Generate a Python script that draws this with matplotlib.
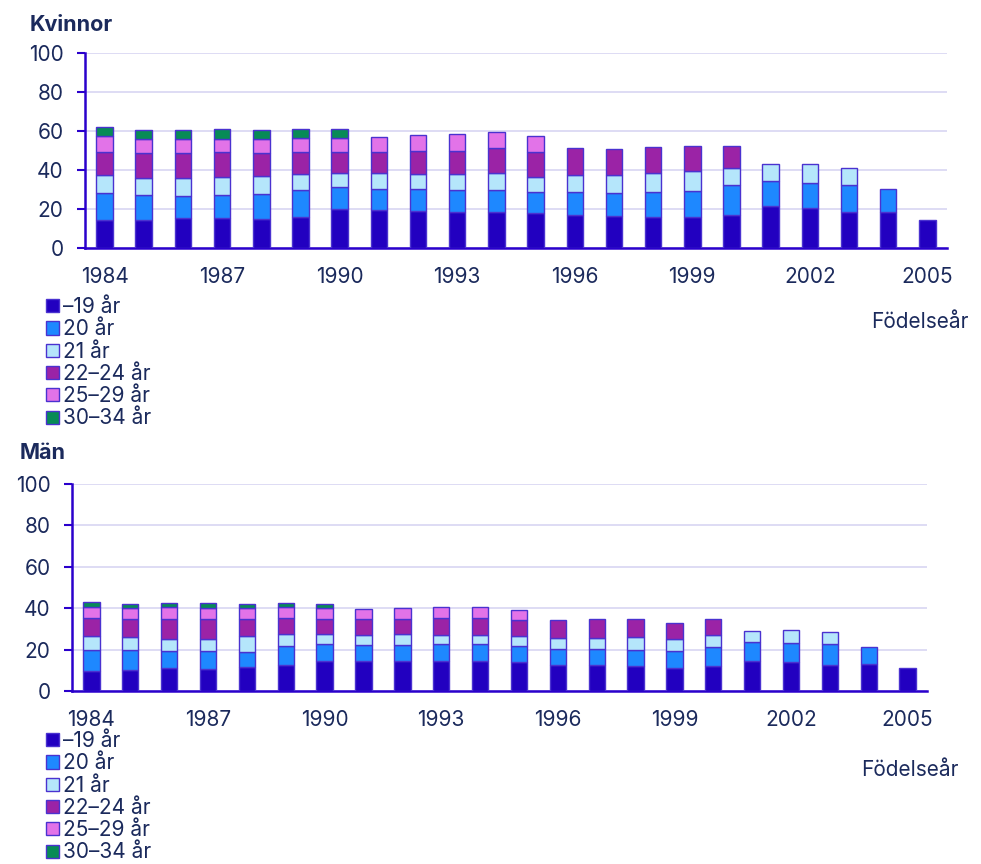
import numpy as np
import matplotlib.pyplot as plt
from matplotlib.patches import Patch

plt.rcParams["font.family"] = ["Inter", "DejaVu Sans"]

# Data
years = list(range(1984, 2006))
labels = ["\u201319 år", "20 år", "21 år", "22\u201324 år", "25\u201329 år", "30\u201334 år"]

w_19 = [14.5, 14.5, 15.2, 15.2, 15.0, 16.1, 20.2, 19.5, 18.8, 18.3, 18.3, 17.8, 16.9, 16.6, 16.1, 16.1, 17.1, 21.7, 20.5, 18.3, 18.6, 14.5]
w_20 = [13.5, 12.9, 11.6, 12.0, 12.5, 13.6, 11.3, 10.8, 11.5, 11.4, 11.6, 10.7, 11.6, 11.8, 12.4, 13.3, 15.4, 12.7, 13.0, 14.0, 11.5, 0]
w_21 = [9.3, 8.5, 9.1, 9.0, 9.4, 8.4, 7.1, 8.0, 7.8, 8.1, 8.4, 8.1, 8.8, 8.9, 9.8, 10.3, 8.5, 8.5, 9.4, 8.6, 0, 0]
w_22 = [11.9, 12.6, 12.6, 13.0, 12.0, 11.1, 10.8, 10.9, 11.6, 12.1, 12.8, 12.8, 14.0, 13.6, 13.3, 12.8, 11.5, 0, 0, 0, 0, 0]
w_25 = [8.1, 7.2, 7.2, 6.9, 6.8, 7.0, 7.2, 7.7, 8.1, 8.4, 8.2, 7.9, 0, 0, 0, 0, 0, 0, 0, 0, 0, 0]
w_30 = [4.6, 4.8, 4.8, 4.9, 5.0, 4.8, 4.3, 0, 0, 0, 0, 0, 0, 0, 0, 0, 0, 0, 0, 0, 0, 0]

m_19 = [9.6, 10.1, 11.0, 10.7, 11.4, 12.5, 14.7, 14.4, 14.7, 14.7, 14.7, 13.9, 12.8, 12.8, 12.2, 11.0, 12.0, 14.7, 13.9, 12.8, 13.0, 11.0]
m_20 = [10.1, 9.9, 8.5, 8.8, 7.6, 9.3, 8.0, 7.7, 7.7, 7.9, 7.9, 7.7, 7.7, 7.5, 7.8, 8.4, 9.4, 8.8, 9.1, 9.9, 8.4, 0]
m_21 = [7.0, 6.1, 5.8, 5.8, 7.4, 5.7, 4.8, 4.9, 5.0, 4.6, 4.6, 4.8, 5.1, 5.5, 5.9, 5.7, 5.8, 5.5, 6.3, 5.8, 0, 0]
m_22 = [8.5, 8.6, 9.6, 9.6, 8.6, 7.7, 7.2, 7.6, 7.3, 8.0, 8.2, 8.0, 8.6, 8.8, 8.7, 7.7, 7.4, 0, 0, 0, 0, 0]
m_25 = [5.6, 5.6, 5.6, 5.1, 5.0, 5.3, 5.3, 4.9, 5.3, 5.4, 5.2, 4.8, 0, 0, 0, 0, 0, 0, 0, 0, 0, 0]
m_30 = [2.4, 1.9, 2.1, 2.6, 2.2, 2.1, 1.8, 0, 0, 0, 0, 0, 0, 0, 0, 0, 0, 0, 0, 0, 0, 0]

colors = ["#2200C0", "#1E88FF", "#B5E6FB", "#9B23A6", "#E273E8", "#078B56"]
edge = "#4A32D0"
text_c = "#1B2A5C"
axis_c = "#2A00CC"
grid_c = "#D8D5F2"


def draw(ax, series):
    x = np.arange(len(years))
    bottom = np.zeros(len(years))
    for vals, col in zip(series, colors):
        v = np.array(vals, dtype=float)
        m = v > 0
        ax.bar(x[m], v[m], bottom=bottom[m], width=0.42, color=col,
               edgecolor=edge, linewidth=1.0, zorder=3)
        bottom += v
    ax.set_xlim(-0.5, len(years) - 0.5)
    ax.set_ylim(0, 100)
    ax.set_yticks(range(0, 101, 20))
    ax.set_xticks(x[::3])
    ax.set_xticklabels([str(y) for y in years[::3]])
    ax.grid(axis="y", color=grid_c, linewidth=1.2, zorder=0)
    for s in ["top", "right"]:
        ax.spines[s].set_visible(False)
    for s in ["left", "bottom"]:
        ax.spines[s].set_color(axis_c)
        ax.spines[s].set_linewidth(1.8)
    ax.tick_params(axis="y", colors=axis_c, labelcolor=text_c, labelsize=15,
                   length=6, width=1.5, pad=9.5)
    ax.tick_params(axis="x", length=0, labelcolor=text_c, labelsize=15, pad=13.5)


fig = plt.figure(figsize=(9.81, 8.64), dpi=100)
ax1 = fig.add_axes([0.0866, 0.7130, 0.8787, 0.2257])
ax2 = fig.add_axes([0.0734, 0.2002, 0.8716, 0.2396])

draw(ax1, [w_19, w_20, w_21, w_22, w_25, w_30])
draw(ax2, [m_19, m_20, m_21, m_22, m_25, m_30])

fig.text(30 / 981, 1 - 25 / 864, "Kvinnor", fontsize=15.5, fontweight="bold",
         color=text_c, va="center", ha="left")
fig.text(20 / 981, 1 - 453 / 864, "Män", fontsize=15.5, fontweight="bold",
         color=text_c, va="center", ha="left")

fig.text(969 / 981, 1 - 322 / 864, "Födelseår", fontsize=15, color=text_c,
         va="center", ha="right")
fig.text(959 / 981, 1 - 770 / 864, "Födelseår", fontsize=15, color=text_c,
         va="center", ha="right")

handles = [Patch(facecolor=c, edgecolor=edge, linewidth=1.0) for c in colors]
for ytop in [297, 731]:
    fig.legend(handles, labels, loc="upper left",
               bbox_to_anchor=(46 / 981, 1 - ytop / 864), frameon=False,
               fontsize=15, labelcolor=text_c, handlelength=0.6,
               handleheight=0.6, handletextpad=0.2, labelspacing=0.11,
               borderpad=0, borderaxespad=0)

fig.savefig("out.png", dpi=100)
